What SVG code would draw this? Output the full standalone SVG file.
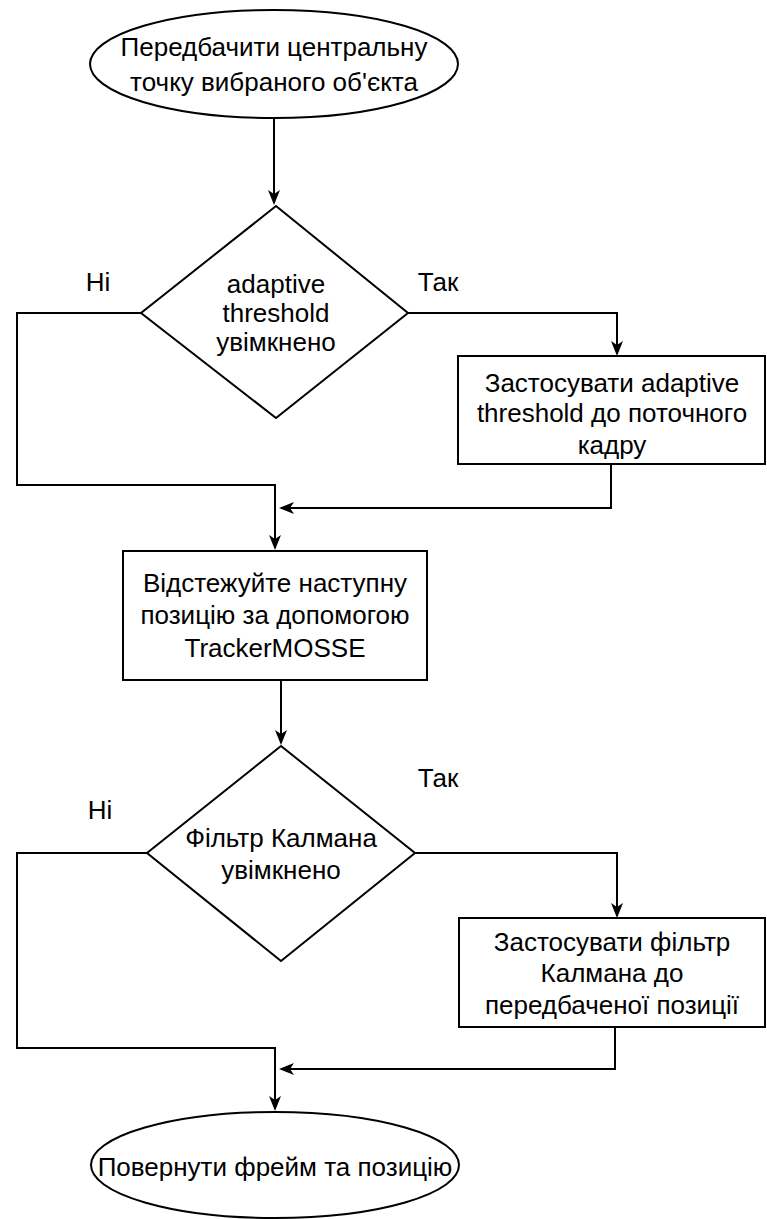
<svg xmlns="http://www.w3.org/2000/svg" width="767" height="1219" viewBox="0 0 767 1219">
<style>
.s{fill:#fff;stroke:#000;stroke-width:2}
.c{fill:none;stroke:#000;stroke-width:2}
.h{fill:#000}
text{font-family:"Liberation Sans",Arial,sans-serif;font-size:26px;fill:#000;text-anchor:middle;dominant-baseline:central}
</style>
<rect width="767" height="1219" fill="#fff"/>
<g id="connectors">
<path class="c" d="M274,118 V203"/>
<path class="h" d="M268,190 L274,205 L280,190 L274,194 Z"/>
<path class="c" d="M141,313 H17 V485 H275 V548"/>
<path class="h" d="M269,535 L275,550 L281,535 L275,539 Z"/>
<path class="c" d="M408,313 H617 V353"/>
<path class="h" d="M611,341 L617,356 L623,341 L617,345 Z"/>
<path class="c" d="M611,464 V508 H281"/>
<path class="h" d="M294,502 L279,508 L294,514 L290,508 Z"/>
<path class="c" d="M281,680 V743"/>
<path class="h" d="M275,730 L281,745 L287,730 L281,734 Z"/>
<path class="c" d="M147,853 H17 V1048 H275 V1109"/>
<path class="h" d="M269,1096 L275,1111 L281,1096 L275,1100 Z"/>
<path class="c" d="M415,853 H617 V916"/>
<path class="h" d="M611,903 L617,918 L623,903 L617,907 Z"/>
<path class="c" d="M615,1027 V1069 H281"/>
<path class="h" d="M294,1063 L279,1069 L294,1075 L290,1069 Z"/>
</g>
<g id="start">
<ellipse class="s" cx="274" cy="64" rx="184" ry="54"/>
<text x="274" y="47">Передбачити центральну</text>
<text x="274" y="82">точку вибраного об'єкта</text>
</g>
<g id="decision1">
<path class="s" d="M276,206 L408,313 L276,418 L141,313 Z"/>
<text x="276" y="284">adaptive</text>
<text x="276" y="313">threshold</text>
<text x="276" y="342">увімкнено</text>
</g>
<g id="label-no1"><text x="98" y="282">Ні</text></g>
<g id="label-yes1"><text x="438" y="282">Так</text></g>
<g id="apply-threshold">
<rect class="s" x="458" y="356" width="307" height="108"/>
<text x="612" y="383">Застосувати adaptive</text>
<text x="612" y="413">threshold до поточного</text>
<text x="612" y="445">кадру</text>
</g>
<g id="track">
<rect class="s" x="123" y="551" width="304" height="129"/>
<text x="275" y="583">Відстежуйте наступну</text>
<text x="275" y="615">позицію за допомогою</text>
<text x="275" y="648">TrackerMOSSE</text>
</g>
<g id="decision2">
<path class="s" d="M281,746 L415,853 L281,961 L147,853 Z"/>
<text x="281" y="838">Фільтр Калмана</text>
<text x="281" y="870">увімкнено</text>
</g>
<g id="label-yes2"><text x="438" y="778">Так</text></g>
<g id="label-no2"><text x="100" y="810">Ні</text></g>
<g id="apply-kalman">
<rect class="s" x="459" y="918" width="306" height="109"/>
<text x="612" y="942">Застосувати фільтр</text>
<text x="612" y="973">Калмана до</text>
<text x="612" y="1005">передбаченої позиції</text>
</g>
<g id="end">
<ellipse class="s" cx="275" cy="1165" rx="184" ry="53"/>
<text x="275" y="1167">Повернути фрейм та позицію</text>
</g>
</svg>
